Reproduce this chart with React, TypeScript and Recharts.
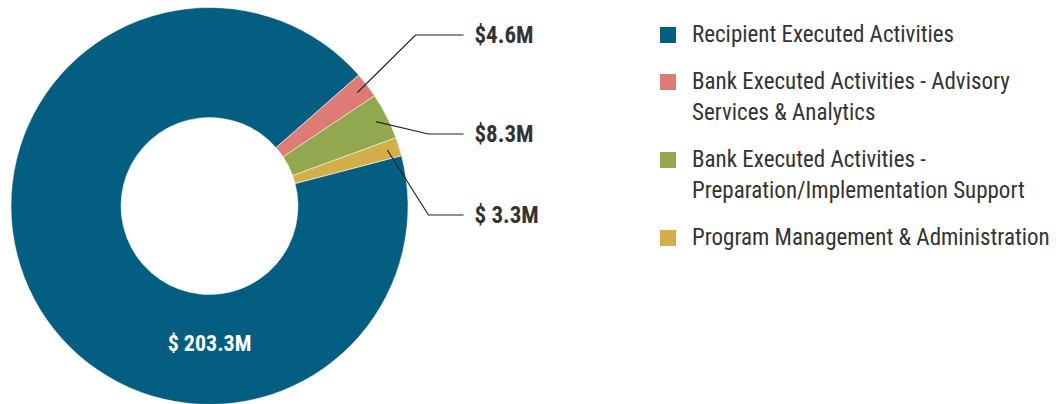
import { PieChart, Pie, Cell, Legend } from 'recharts';

document.body.style.margin = '0';

const categories = [
  'Recipient Executed Activities',
  'Bank Executed Activities - Advisory Services & Analytics',
  'Bank Executed Activities - Preparation/Implementation Support',
  'Program Management & Administration',
];
const amounts = [203.3, 4.6, 8.3, 3.3];
const amountLabels = ['$ 203.3M', '$4.6M', '$8.3M', '$ 3.3M'];
const legendLines = [
  ['Recipient Executed Activities'],
  ['Bank Executed Activities - Advisory', 'Services & Analytics'],
  ['Bank Executed Activities -', 'Preparation/Implementation Support'],
  ['Program Management & Administration'],
];
const colors = ['#045e82', '#de7b76', '#91a84e', '#d4ae48'];

// where the callout text sits, relative to the pie centre
const calloutY = [0, -171, -72, 9];
const calloutElbowX = [0, 206, 219, 219];

const FONT = "'Roboto Condensed','Liberation Sans Narrow','DejaVu Sans Condensed',Roboto,sans-serif";

const data = categories.map((name, i) => ({ name, value: amounts[i] }));

const RADIAN = Math.PI / 180;

function renderLabel(props: any) {
  const { cx, cy, midAngle, innerRadius, outerRadius, index } = props;
  if (index === 0) {
    return (
      <text x={cx} y={cy + (innerRadius + outerRadius) / 2 - 6} fill='#fff' textAnchor='middle' dominantBaseline='central' fontFamily={FONT} fontWeight={700} fontSize={22}>
        {amountLabels[index]}
      </text>
    );
  }
  const r = outerRadius - 12;
  const sx = cx + r * Math.cos(-midAngle * RADIAN);
  const sy = cy + r * Math.sin(-midAngle * RADIAN);
  const ex = cx + calloutElbowX[index];
  const ey = cy + calloutY[index];
  const lx = cx + 254;
  return (
    <g>
      <polyline points={`${sx},${sy} ${ex},${ey} ${lx},${ey}`} fill='none' stroke='#222' strokeWidth={1.2} />
      <text x={cx + 265} y={ey} fill='#333' textAnchor='start' dominantBaseline='central' fontFamily={FONT} fontWeight={700} fontSize={23}>
        {amountLabels[index]}
      </text>
    </g>
  );
}

function LegendContent() {
  return (
    <div style={{ fontFamily: FONT, fontSize: 23, color: '#333', lineHeight: '31px' }}>
      {legendLines.map((lines, i) => (
        <div key={i} style={{ display: 'flex', alignItems: 'flex-start', marginBottom: 16 }}>
          <div style={{ width: 16, height: 16, background: colors[i], marginTop: 8, marginRight: 16, flexShrink: 0 }} />
          <div>
            {lines.map((l) => (
              <div key={l}>{l}</div>
            ))}
          </div>
        </div>
      ))}
    </div>
  );
}

export default function App() {
  return (
    <PieChart width={1059} height={404} margin={{ top: 0, right: 0, bottom: 0, left: 0 }}>
      <Pie
        data={data}
        dataKey='value'
        nameKey='name'
        cx={209.5}
        cy={206}
        innerRadius={88.5}
        outerRadius={198.5}
        startAngle={14.7}
        endAngle={-345.3}
        stroke='#fff'
        strokeWidth={0.5}
        label={renderLabel}
        labelLine={false}
        isAnimationActive={false}
      >
        {data.map((d, i) => (
          <Cell key={d.name} fill={colors[i]} />
        ))}
      </Pie>
      <Legend content={<LegendContent />} layout='vertical' verticalAlign='top' align='right' wrapperStyle={{ left: 660, top: 19, width: 399 }} />
    </PieChart>
  );
}
